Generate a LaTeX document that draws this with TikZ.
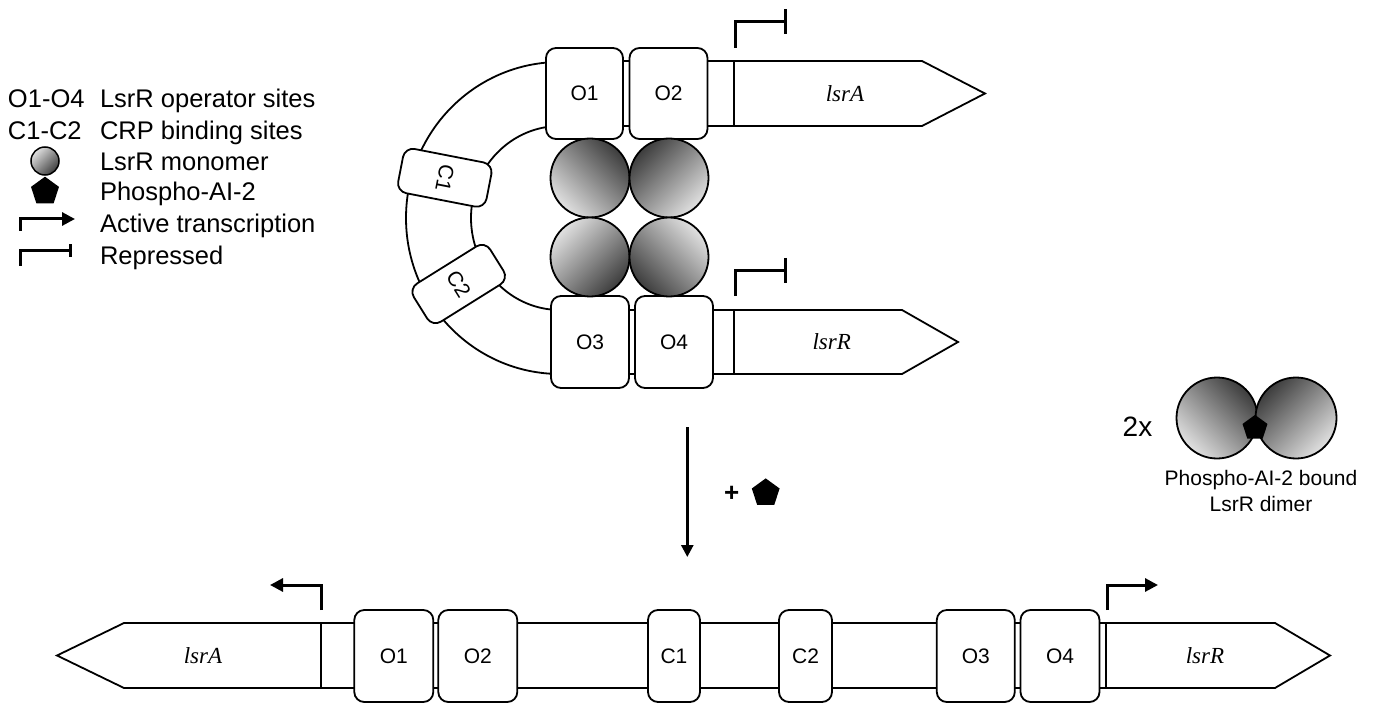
\documentclass[tikz,border=0pt]{standalone}
\usepackage{fontspec}
\setmainfont{Liberation Sans}
\newfontfamily\genefont{Liberation Serif}
\usetikzlibrary{arrows.meta,shapes.geometric}
\definecolor{shDark}{gray}{0.24}
\definecolor{shLight}{gray}{0.88}
\begin{document}
\begin{tikzpicture}[x=1pt,y=-1pt,
  every node/.style={inner sep=0pt, outer sep=0pt},
  site/.style={draw, line width=1.8pt, rounded corners=10pt, fill=white, font=\fontsize{21}{24}\selectfont, minimum width=78pt, minimum height=92pt},
  csite/.style={site, minimum width=52pt},
  loopc/.style={site, minimum width=45pt, minimum height=90pt},
  strand/.style={line width=1.8pt},
  gene/.style={line width=1.8pt, fill=white, line join=miter},
  genename/.style={font=\genefont\itshape\fontsize{23}{26}\selectfont},
  prom/.style={line width=3pt},
  act/.style={prom, -{Triangle[length=13pt,width=13pt]}},
  rep/.style={prom, -{Bar[width=25pt]}},
  mono/.style={circle, draw, line width=1.8pt, minimum size=79pt, shading=axis, top color=shDark, bottom color=shLight},
  pent/.style={regular polygon, regular polygon sides=5, fill=black, inner sep=0pt},
  legtext/.style={anchor=base west, font=\fontsize{25.5}{28}\selectfont},
]
\useasboundingbox (0,0) rectangle (1378,703);

% ---------- legend ----------
\node[legtext] (l1a) at (8,107.3) {O1-O4};
\node[legtext] (l1b) at (100,107.3) {LsrR operator sites};
\node[legtext] (l2a) at (8,140) {C1-C2};
\node[legtext] (l2b) at (100,140) {CRP binding sites};
\node[circle, draw, line width=1.5pt, minimum size=28pt, shading=axis, top color=shLight, bottom color=shDark, shading angle=45] (lmono) at (45,161) {};
\node[legtext] (l3b) at (100,170.5) {LsrR monomer};
\node[pent, minimum size=29.4pt] (lpent) at (45,191.4) {};
\node[legtext] (l4b) at (100,201) {Phospho-AI-2};
\coordinate (la0) at (20,231);
\coordinate (la1) at (75,219);
\draw[act] (la0) |- (la1);
\node[legtext] (l5b) at (100,232.5) {Active transcription};
\coordinate (lr0) at (20,266);
\coordinate (lr1) at (72,251);
\draw[prom, -{Bar[width=13pt]}] (lr0) |- (lr1);
\node[legtext] (l6b) at (100,265) {Repressed};

% ---------- looped DNA ----------
\begin{scope}
  \clip (300,0) rectangle (560,420);
  \draw[strand] (560,218) ellipse [x radius=154pt, y radius=156pt];
  \draw[strand] (560,218) ellipse [x radius=89pt, y radius=92pt];
\end{scope}
\draw[strand] (560,61) -- (734,61);
\draw[strand] (560,126) -- (734,126);
\draw[strand] (560,310) -- (734,310);
\draw[strand] (560,374) -- (734,374);

\node[site, minimum width=77pt, minimum height=91pt] (tO1) at (584.5,93.5) {O1};
\node[site, minimum height=91pt] (tO2) at (668.5,93.5) {O2};
\node[site] (tO3) at (590,342) {O3};
\node[site] (tO4) at (674,342) {O4};
\node[loopc, rotate=-101] (tC1) at (444.8,177.8) {C1};
\node[loopc, rotate=-58] (tC2) at (458.7,284) {C2};

\draw[gene] (734,61) -- (922,61) -- (985,93.5) -- (922,126) -- (734,126) -- cycle;
\node[genename] (tgA) at (845,93.5) {lsrA};
\draw[gene] (734,310) -- (902,310) -- (958,342) -- (902,374) -- (734,374) -- cycle;
\node[genename] (tgR) at (831.7,342) {lsrR};

\coordinate (tpA0) at (735,48);
\coordinate (tpA1) at (787,22);
\draw[rep] (tpA0) |- (tpA1);
\coordinate (tpR0) at (735,296);
\coordinate (tpR1) at (787,270.5);
\draw[rep] (tpR0) |- (tpR1);

\node[mono, shading angle=-45] (m1) at (590,178) {};
\node[mono, shading angle=45] (m2) at (669,178) {};
\node[mono, shading angle=-135] (m3) at (590,257) {};
\node[mono, shading angle=135] (m4) at (669,257) {};

% ---------- reaction arrow ----------
\coordinate (r0) at (687.3,427);
\coordinate (r1) at (687.3,557);
\draw[line width=2.6pt, -{Triangle[length=12pt,width=12pt]}] (r0) -- (r1);
\node[font=\bfseries\fontsize{26}{30}\selectfont] (plus) at (731.7,494) {+};
\node[pent, minimum size=29.2pt] (rpent) at (765.7,493) {};

% ---------- dimer ----------
\node[anchor=base west, font=\fontsize{28}{32}\selectfont] (twox) at (1122.7,436) {2x};
\node[mono, minimum size=81pt, shading angle=-45] (d1) at (1217,418) {};
\node[mono, minimum size=81pt, shading angle=45] (d2) at (1296,418) {};
\node[pent, minimum size=26.2pt] (dpent) at (1255,428) {};
\node[anchor=base, font=\fontsize{21}{26}\selectfont] (dlab1) at (1261,485) {Phospho-AI-2 bound};
\node[anchor=base, font=\fontsize{21}{26}\selectfont] (dlab2) at (1261,511.7) {LsrR dimer};

% ---------- linear DNA ----------
\draw[strand] (321,623) -- (1106,623);
\draw[strand] (321,688) -- (1106,688);
\draw[gene] (321,623) -- (124,623) -- (57,655.5) -- (124,688) -- (321,688) -- cycle;
\node[genename] (bgA) at (203,655.5) {lsrA};
\draw[gene] (1106,623) -- (1275,623) -- (1330,655.5) -- (1275,688) -- (1106,688) -- cycle;
\node[genename] (bgR) at (1205,655.5) {lsrR};

\node[site, minimum width=79pt] (bO1) at (393.8,656) {O1};
\node[site, minimum width=79pt] (bO2) at (477.8,656) {O2};
\node[csite] (bC1) at (674,656) {C1};
\node[csite, minimum width=53pt] (bC2) at (805.5,656) {C2};
\node[site] (bO3) at (975.8,656) {O3};
\node[site, minimum width=79pt] (bO4) at (1060,656) {O4};

\coordinate (bpA0) at (321,610);
\coordinate (bpA1) at (270,585);
\draw[act] (bpA0) |- (bpA1);
\coordinate (bpR0) at (1107,610);
\coordinate (bpR1) at (1158,585);
\draw[act] (bpR0) |- (bpR1);
\end{tikzpicture}
\end{document}
